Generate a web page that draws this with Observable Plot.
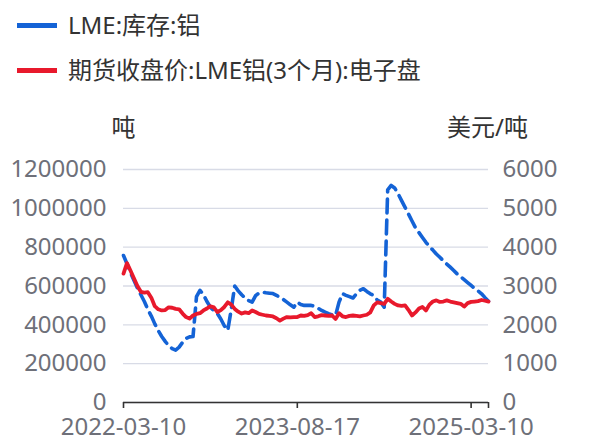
<!DOCTYPE html>
<html>
<head>
<meta charset="utf-8">
<script src="https://cdn.jsdelivr.net/npm/d3@7"></script>
<script src="https://cdn.jsdelivr.net/npm/@observablehq/plot@0.6"></script>
<style>
  html, body { margin: 0; padding: 0; background: #fff; }
  body { width: 608px; height: 440px; overflow: hidden; font-family: "Noto Sans", "Noto Sans CJK SC", sans-serif; }
  #legend { position: relative; height: 95px; width: 608px; }
  .item { position: absolute; left: 17px; display: flex; align-items: center; font-size: 24px; color: #333; white-space: nowrap; line-height: 34px; }
  .swatch { width: 40px; height: 5px; margin-right: 11px; }
</style>
</head>
<body>
<div id="legend"></div>
<div id="chart"></div>
<script>
// Tick labels on the category x axis (category index 0, 50, 100)
const tickIndex = [0, 50, 100];
const tickLabels = ["2022-03-10", "2023-08-17", "2025-03-10"];
const lastIndex = 105;

const seriesNames = ["LME:库存:铝", "期货收盘价:LME铝(3个月):电子盘"];
const seriesColors = ["#1463d6", "#e8192c"];
const leftUnit = "吨";
const rightUnit = "美元/吨";

// LME aluminium stocks (tonnes), one value per category
const stocks = [
  757000, 715000, 670000, 630000, 590000, 555000, 520000, 480000, 445000, 405000,
  370000, 340000, 315000, 292000, 278000, 270000, 285000, 310000, 330000, 338000,
  340000, 545000, 578000, 555000, 520000, 491000, 472000, 458000, 430000, 395000,
  372000, 480000, 600000, 575000, 555000, 538000, 525000, 517000, 550000, 565000,
  568000, 565000, 563000, 561000, 552000, 542000, 530000, 517000, 503000, 491000,
  517000, 505000, 500000, 500000, 500000, 495000, 485000, 474000, 465000, 457000,
  452000, 448000, 517000, 560000, 552000, 545000, 538000, 560000, 578000, 586000,
  572000, 560000, 551000, 528000, 517000, 491000, 1095000, 1118000, 1105000, 1075000,
  1040000, 1005000, 970000, 935000, 900000, 875000, 850000, 825000, 803000, 785000,
  765000, 748000, 730000, 713000, 697000, 680000, 662000, 648000, 633000, 618000,
  603000, 588000, 575000, 560000, 540000, 522000
];

// LME 3-month aluminium close (USD/t), one value per category
const price = [
  3320, 3590, 3400, 3200, 3000, 2850, 2830, 2840, 2700, 2480,
  2400, 2370, 2380, 2450, 2440, 2410, 2400, 2290, 2200, 2160,
  2240, 2280, 2300, 2370, 2420, 2480, 2450, 2330, 2380, 2460,
  2580, 2520, 2410, 2340, 2290, 2320, 2300, 2370, 2330, 2280,
  2260, 2240, 2230, 2215, 2170, 2110, 2160, 2200, 2190, 2200,
  2200, 2240, 2230, 2250, 2300, 2200, 2220, 2250, 2240, 2230,
  2240, 2150, 2300, 2220, 2200, 2230, 2240, 2230, 2220, 2240,
  2260, 2320, 2500, 2580, 2560, 2540, 2670, 2600, 2540, 2500,
  2490, 2500, 2380, 2240, 2320, 2420, 2460, 2370, 2520, 2600,
  2630, 2590, 2600, 2630, 2600, 2580, 2560, 2540, 2470, 2560,
  2590, 2600, 2610, 2640, 2620, 2600
];

const leftTicks = [0, 200000, 400000, 600000, 800000, 1000000, 1200000];
const ratio = 200; // right axis 0-6000 shares the left axis 0-1200000 range

// Legend
const legend = document.getElementById("legend");
seriesNames.forEach((name, k) => {
  const div = document.createElement("div");
  div.className = "item";
  div.style.top = (k === 0 ? 8 : 53) + "px";
  div.innerHTML = `<span class="swatch" style="background:${seriesColors[k]}"></span><span>${name}</span>`;
  legend.appendChild(div);
});

const stockData = stocks.map((v, i) => ({i, v}));
const priceData = price.map((v, i) => ({i, v: v * ratio}));

const font = '"Noto Sans", "Noto Sans CJK SC", sans-serif';
const chart = Plot.plot({
  width: 608,
  height: 345,
  marginLeft: 123,
  marginRight: 120,
  marginTop: 74,
  marginBottom: 38,
  style: {fontFamily: font, fontSize: "24px", background: "#fff", overflow: "visible"},
  x: {domain: [0, lastIndex]},
  y: {domain: [0, 1200000]},
  marks: [
    Plot.gridY(leftTicks, {stroke: "#d8dbe6", strokeOpacity: 1, strokeWidth: 1.3}),
    Plot.axisY(leftTicks, {anchor: "left", tickSize: 0, tickPadding: 17, fill: "#6e7079", fontSize: 24, label: null, tickFormat: d => String(d)}),
    Plot.axisY(leftTicks, {anchor: "right", tickSize: 0, tickPadding: 14, fill: "#6e7079", fontSize: 24, label: null, tickFormat: d => String(d / ratio)}),
    Plot.ruleY([0], {stroke: "#333", strokeWidth: 1.6}),
    Plot.axisX([...tickIndex, lastIndex], {anchor: "bottom", tickSize: 6, tickPadding: 9, stroke: "#333", strokeWidth: 1.6, fill: "#6e7079", fontSize: 24, label: null,
      tickFormat: d => { const k = tickIndex.indexOf(d); return k >= 0 ? tickLabels[k] : ""; }}),
    Plot.line(stockData, {x: "i", y: "v", stroke: seriesColors[0], strokeWidth: 3.6, strokeDasharray: "14,7", strokeLinejoin: "round"}),
    Plot.line(priceData, {x: "i", y: "v", stroke: seriesColors[1], strokeWidth: 3.8, strokeLinejoin: "round"}),
    Plot.text([leftUnit], {frameAnchor: "top-left", dy: -41, lineAnchor: "middle", textAnchor: "middle", fill: "#333", fontSize: 24}),
    Plot.text([rightUnit], {frameAnchor: "top-right", dy: -41, dx: -1, lineAnchor: "middle", textAnchor: "middle", fill: "#333", fontSize: 24})
  ]
});
document.getElementById("chart").appendChild(chart);
</script>
</body>
</html>
